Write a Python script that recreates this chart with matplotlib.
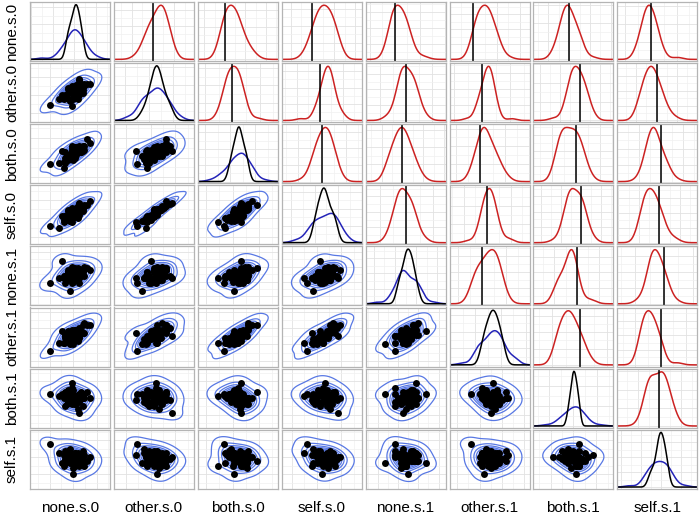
import matplotlib
matplotlib.use("Agg")
import matplotlib.pyplot as plt
import numpy as np
import seaborn as sns
from matplotlib.ticker import MaxNLocator, AutoMinorLocator

plt.rcParams['font.family'] = ['Liberation Sans', 'DejaVu Sans']

# variable names (rows / columns of the pairs plot)
names = ["none.s.0", "other.s.0", "both.s.0", "self.s.0",
         "none.s.1", "other.s.1", "both.s.1", "self.s.1"]

# draws (scatter points, blue densities, red difference densities)
none_s0 = [0.2, -0.4, 0.7, -0.3, 0.3, 0.1, -0.6, 0.5, -0.5, 0.2,
           0.0, 0.0, 0.7, -0.5, 0.1, 0.5, -0.1, -0.2, -0.1, 0.4,
           -0.3, 0.6, 0.1, 1.1, -0.2, 0.4, -0.5, 0.3, -1.5, 0.2,
           -0.1, 0.0, 0.1, -0.6, -0.1, 0.2, 0.6, -0.2, 0.3, 0.0,
           -0.1, 0.9, -0.2, -0.3, -0.7, 0.4, -0.9, 0.1, 0.0, 0.4]
other_s0 = [0.2, 0.0, 0.9, 0.5, -0.3, 0.5, -0.3, 0.9, -0.1, 0.8,
            -0.3, 0.5, 0.7, 0.0, -0.2, 0.6, 0.3, -0.4, 0.4, 1.2,
            0.2, 0.2, 0.2, 0.9, 0.4, 0.0, -0.1, 0.9, -0.8, 0.3,
            0.7, -0.2, 0.7, -0.2, 0.3, 0.3, 0.4, -0.5, 0.5, 0.4,
            -0.9, 0.9, -0.4, 0.6, 0.0, 1.3, -0.3, 0.2, 0.2, 0.6]
both_s0 = [0.5, 0.2, 0.6, 0.1, 0.5, 0.8, -0.3, 0.4, 0.4, 0.6,
           -0.2, 0.8, 0.9, 0.0, 0.6, 0.4, 0.3, -0.1, 0.7, 0.9,
           -0.2, 0.5, 0.0, 1.1, 0.2, 0.6, -0.4, 0.8, -0.5, 0.2,
           0.9, 0.2, 0.1, -0.8, 0.5, 0.4, 0.9, 0.1, 0.4, 0.1,
           0.5, 1.4, 0.1, 0.2, 0.5, 0.5, -0.4, 0.8, 0.0, 0.5]
self_s0 = [0.7, -0.1, 1.1, 0.6, 0.0, 0.8, -0.1, 1.0, 0.2, 0.9,
           0.0, 0.7, 1.0, 0.2, 0.2, 0.9, 0.4, -0.2, 0.7, 1.2,
           0.1, 0.6, 0.4, 1.4, 0.4, 0.3, 0.0, 1.0, -0.6, 0.5,
           0.9, 0.1, 0.8, -0.3, 0.5, 0.4, 0.8, -0.2, 0.8, 0.3,
           -0.3, 1.1, -0.1, 0.7, 0.2, 1.3, -0.8, 0.8, 0.5, 0.7]
none_s1 = [0.6, 0.1, 0.3, 0.6, 0.2, 0.1, 0.3, 0.6, -0.1, 0.6,
           0.3, 0.1, 0.8, 0.2, 0.5, 0.3, -0.1, 0.2, 0.8, 0.3,
           0.5, 0.5, 0.2, 0.6, 0.4, -0.1, 0.3, 0.7, -0.1, 0.1,
           0.4, 0.5, 0.1, 0.2, 0.7, 0.1, 0.6, -0.5, 0.3, 0.4,
           0.2, 0.7, 0.2, 0.5, 1.1, 0.2, 0.2, 0.7, 0.0, 0.3]
other_s1 = [0.7, 0.3, 0.7, 0.8, 0.2, 0.9, 0.1, 0.8, 0.5, 0.9,
            0.0, 0.5, 1.3, 0.6, 0.5, 0.8, 0.1, 0.3, 0.6, 1.0,
            0.4, 0.7, 0.6, 1.2, 0.1, 0.5, 0.4, 0.9, -0.4, 0.4,
            0.9, 0.3, 0.7, 0.1, 0.6, 0.5, 1.2, 0.0, 0.7, 0.2,
            0.7, 1.2, 0.1, 0.7, 0.8, 0.5, 0.1, 0.9, 0.5, 0.4]
both_s1 = [0.1, -0.3, 0.2, 0.4, -0.1, -0.2, 0.0, 0.3, -0.4, 0.1,
           0.2, -0.1, 0.0, 0.3, -0.3, 0.1, 0.5, -0.2, 0.0, -0.1,
           0.2, -0.4, 0.1, 0.0, 0.3, -0.2, 0.1, -0.1, 0.2, 0.0,
           -0.3, 0.4, -0.1, 0.1, 0.7, -0.2, 0.0, 0.2, -0.5, 0.1,
           -0.1, 0.3, 0.0, -0.2, 0.2, -0.7, 0.1, -0.3, 0.0, 0.2]
self_s1 = [-0.2, 0.1, -0.4, 0.2, 0.0, -0.3, 0.1, -0.1, 0.3, -0.2,
           0.0, -0.5, 0.1, -0.1, 0.2, -0.3, 0.0, 0.4, -0.2, -0.1,
           0.3, -0.1, -0.4, 0.0, -0.2, 0.1, -0.3, 0.2, 0.6, -0.1,
           0.0, -0.2, 0.2, -0.4, 0.1, -0.1, 0.3, -0.3, 0.0, -0.8,
           0.1, -0.2, 0.2, -0.1, -0.3, 0.0, 0.2, -0.2, 0.1, -0.4]

# narrower reference draws (black densities on the diagonal)
ref_none_s0 = [0.05, -0.2, 0.3, 0.0, 0.2, -0.3, 0.1, -0.1, 0.35, -0.15,
               0.25, 0.05, -0.25, 0.15, 0.0, 0.2, -0.05, 0.4, -0.35, 0.1]
ref_other_s0 = [0.3, -0.1, 0.7, 0.2, 0.45, 0.0, 0.55, 0.25, 0.85, 0.1,
                0.35, -0.3, 0.5, 0.3, 0.9, 0.2, 0.05, 0.6, 0.35, 0.4]
ref_both_s0 = [0.35, 0.1, 0.6, 0.3, 0.45, 0.05, 0.65, 0.25, 0.4, 0.15,
               0.7, 0.35, 0.1, 0.5, 0.3, 0.45, -0.05, 0.35, 0.6, 0.25]
ref_self_s0 = [0.45, 0.1, 0.75, 0.3, 0.6, 0.0, 0.85, 0.35, 0.5, 0.15,
               0.9, 0.4, 0.65, 0.05, 0.35, 0.5, 0.2, 0.8, 0.45, 0.3]
ref_none_s1 = [0.35, 0.2, 0.5, 0.3, 0.45, 0.1, 0.6, 0.35, 0.15, 0.45,
               0.3, 0.65, 0.35, 0.25, 0.5, 0.4, 0.1, 0.45, 0.3, 0.55]
ref_other_s1 = [0.55, 0.3, 0.75, 0.5, 0.65, 0.2, 0.85, 0.55, 0.4, 0.7,
                0.35, 0.9, 0.55, 0.45, 0.65, 0.25, 0.8, 0.55, 0.4, 0.7]
ref_both_s1 = [0.0, 0.1, -0.1, 0.05, 0.15, -0.05, 0.0, 0.1, -0.15, 0.05,
               0.0, 0.15, -0.05, 0.05, -0.1, 0.0, 0.1, 0.05, -0.05, 0.0]
ref_self_s1 = [-0.05, 0.1, -0.25, 0.0, 0.05, -0.15, -0.05, 0.15, -0.1, 0.0,
               -0.3, 0.05, -0.05, 0.1, -0.2, 0.0, 0.15, -0.1, -0.05, 0.05]

draws = [none_s0, other_s0, both_s0, self_s0, none_s1, other_s1, both_s1, self_s1]
refs = [ref_none_s0, ref_other_s0, ref_both_s0, ref_self_s0,
        ref_none_s1, ref_other_s1, ref_both_s1, ref_self_s1]

RED = "#cc2222"
NAVY = "#2424b8"
CONTOUR = "#5878e4"

W, H = 700, 517
fig = plt.figure(figsize=(W / 100, H / 100), dpi=100)

# panel geometry in pixels
left0, top0 = 30, 2
pitch_x, pitch_y = 83.9, 61.1
pw, ph = 80, 59


def make_panel(r, c):
    x0 = left0 + c * pitch_x
    y0 = top0 + r * pitch_y
    ax = fig.add_axes([x0 / W, 1 - (y0 + ph) / H, pw / W, ph / H])
    ax.set_facecolor("white")
    for s in ax.spines.values():
        s.set_color("#b4b4b4")
        s.set_linewidth(0.9)
    return ax


def finish(ax):
    ax.xaxis.set_major_locator(MaxNLocator(4))
    ax.yaxis.set_major_locator(MaxNLocator(4))
    ax.xaxis.set_minor_locator(AutoMinorLocator(2))
    ax.yaxis.set_minor_locator(AutoMinorLocator(2))
    ax.grid(True, which="major", color="#e2e2e2", lw=0.6)
    ax.grid(True, which="minor", color="#f0f0f0", lw=0.5)
    ax.set_axisbelow(True)
    ax.tick_params(which="both", length=0, labelbottom=False, labelleft=False)
    ax.set_xlabel("")
    ax.set_ylabel("")


n = len(names)
for r in range(n):
    for c in range(n):
        ax = make_panel(r, c)
        if r == c:
            x = np.array(draws[c])
            sns.kdeplot(x=x, ax=ax, color=NAVY, lw=1.1, cut=2.5)
            xd = ax.lines[0].get_xdata()
            lo, hi = xd.min(), xd.max()
            sns.kdeplot(x=np.array(refs[c]), ax=ax, color="black", lw=1.1,
                        cut=20, clip=(lo, hi))
            ymax = max(l.get_ydata().max() for l in ax.lines)
            ax.set_xlim(lo, hi)
            ax.set_ylim(-0.03 * ymax, 1.05 * ymax)
        elif r < c:
            diff = np.array(draws[c]) - np.array(draws[r])
            sns.kdeplot(x=diff, ax=ax, color=RED, lw=1.1, cut=4, bw_adjust=1.4)
            xd = ax.lines[0].get_xdata()
            ymax = ax.lines[0].get_ydata().max()
            ax.axvline(0, color="black", lw=1.1)
            ax.set_xlim(xd.min(), xd.max())
            ax.set_ylim(-0.03 * ymax, 1.06 * ymax)
        else:
            x = np.array(draws[c])
            y = np.array(draws[r])
            sns.kdeplot(x=x, y=y, ax=ax, levels=11, thresh=0.015, color=CONTOUR,
                        linewidths=0.9, bw_adjust=1.7)
            ax.scatter(x, y, s=25, color="black", zorder=3, linewidths=0)
            ax.margins(0.02)
        finish(ax)

# column labels along the bottom, row labels down the left
for i, name in enumerate(names):
    cx = left0 + i * pitch_x + pw / 2
    fig.text(cx / W, 1 - 508 / H, name, ha="center", va="center", fontsize=11)
    cy = top0 + i * pitch_y + ph / 2
    fig.text(12 / W, 1 - cy / H, name, ha="center", va="center",
             rotation=90, fontsize=11)

fig.savefig("out.png", dpi=100)
